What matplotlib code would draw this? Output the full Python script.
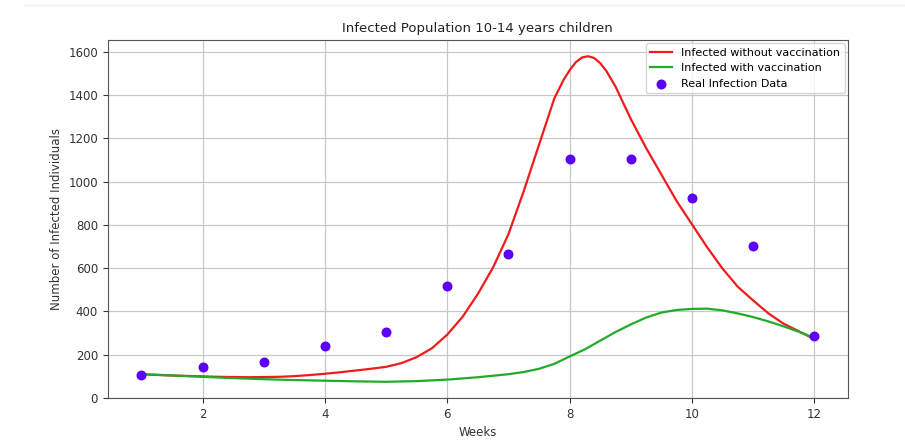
import numpy as np
import matplotlib.pyplot as plt
from matplotlib.lines import Line2D

# real infection data (weekly)
weeks = [1, 2, 3, 4, 5, 6, 7, 8, 9, 10, 11, 12]
real_cases = [107, 143, 168, 239, 306, 517, 666, 1107, 1107, 925, 701, 285]

# model curves
t_red = [1.0, 1.25, 1.5, 1.75, 2.0, 2.25, 2.5, 2.75, 3.0, 3.25, 3.5, 3.75,
         4.0, 4.25, 4.5, 4.75, 5.0, 5.25, 5.5, 5.75, 6.0, 6.25, 6.5, 6.75,
         7.0, 7.25, 7.5, 7.75, 7.9, 8.0, 8.1, 8.2, 8.3, 8.4, 8.5, 8.6, 8.75,
         9.0, 9.25, 9.5, 9.75, 10.0, 10.25, 10.5, 10.75, 11.0, 11.25, 11.5,
         11.75, 12.0]
no_vacc = [110, 107, 104, 102, 100, 98, 97, 96, 97, 98, 101, 106,
           112, 119, 127, 135, 144, 161, 189, 230, 293, 375, 481, 604,
           757, 956, 1171, 1385, 1470, 1515, 1552, 1574, 1580, 1572, 1548, 1512, 1440,
           1290, 1156, 1033, 910, 803, 696, 598, 514, 451, 391, 343,
           308, 272]

t_green = [1.0, 1.5, 2.0, 2.5, 3.0, 3.5, 4.0, 4.5, 5.0, 5.5, 6.0, 6.5,
           7.0, 7.25, 7.5, 7.75, 8.0, 8.25, 8.5, 8.75, 9.0, 9.25, 9.5, 9.75,
           10.0, 10.25, 10.5, 10.75, 11.0, 11.25, 11.5, 11.75, 12.0]
with_vacc = [110, 104, 98, 92, 87, 83, 80, 77, 75, 78, 85, 96,
             110, 120, 135, 158, 192, 225, 265, 305, 340, 372, 395, 407,
             412, 413, 405, 391, 374, 354, 331, 306, 278]

fig = plt.figure(figsize=(9.05, 4.48), dpi=100)
ax = fig.add_axes([0.119, 0.1116, 0.818, 0.7991])

ax.plot(t_red, no_vacc, color='#ee1c1c', lw=1.6, label='Infected without vaccination')
ax.plot(t_green, with_vacc, color='#22aa2a', lw=1.6, label='Infected with vaccination')
ax.scatter(weeks, real_cases, color='#5b00f5', s=38, zorder=3, label='Real Infection Data')

ax.set_ylim(0, 1655)
ax.set_xticks([2, 4, 6, 8, 10, 12])
ax.set_yticks(np.arange(0, 1601, 200))
ax.tick_params(labelsize=8.5, colors='#333333')
ax.grid(True, color='#c8c8c8', lw=0.9)
for s in ax.spines.values():
    s.set_color('#555555')

ax.set_title('Infected Population 10-14 years children', fontsize=9.5, color='#222222')
ax.set_xlabel('Weeks', fontsize=8.5, color='#333333')
ax.set_ylabel('Number of Infected Individuals', fontsize=8.5, color='#333333')
ax.legend(loc='upper right', fontsize=8, borderaxespad=0.3)

# faint notebook border line at the top
fig.add_artist(Line2D([0.028, 1.0], [0.988, 0.988], color='#eeeeee', lw=1))

plt.savefig('out.png')
